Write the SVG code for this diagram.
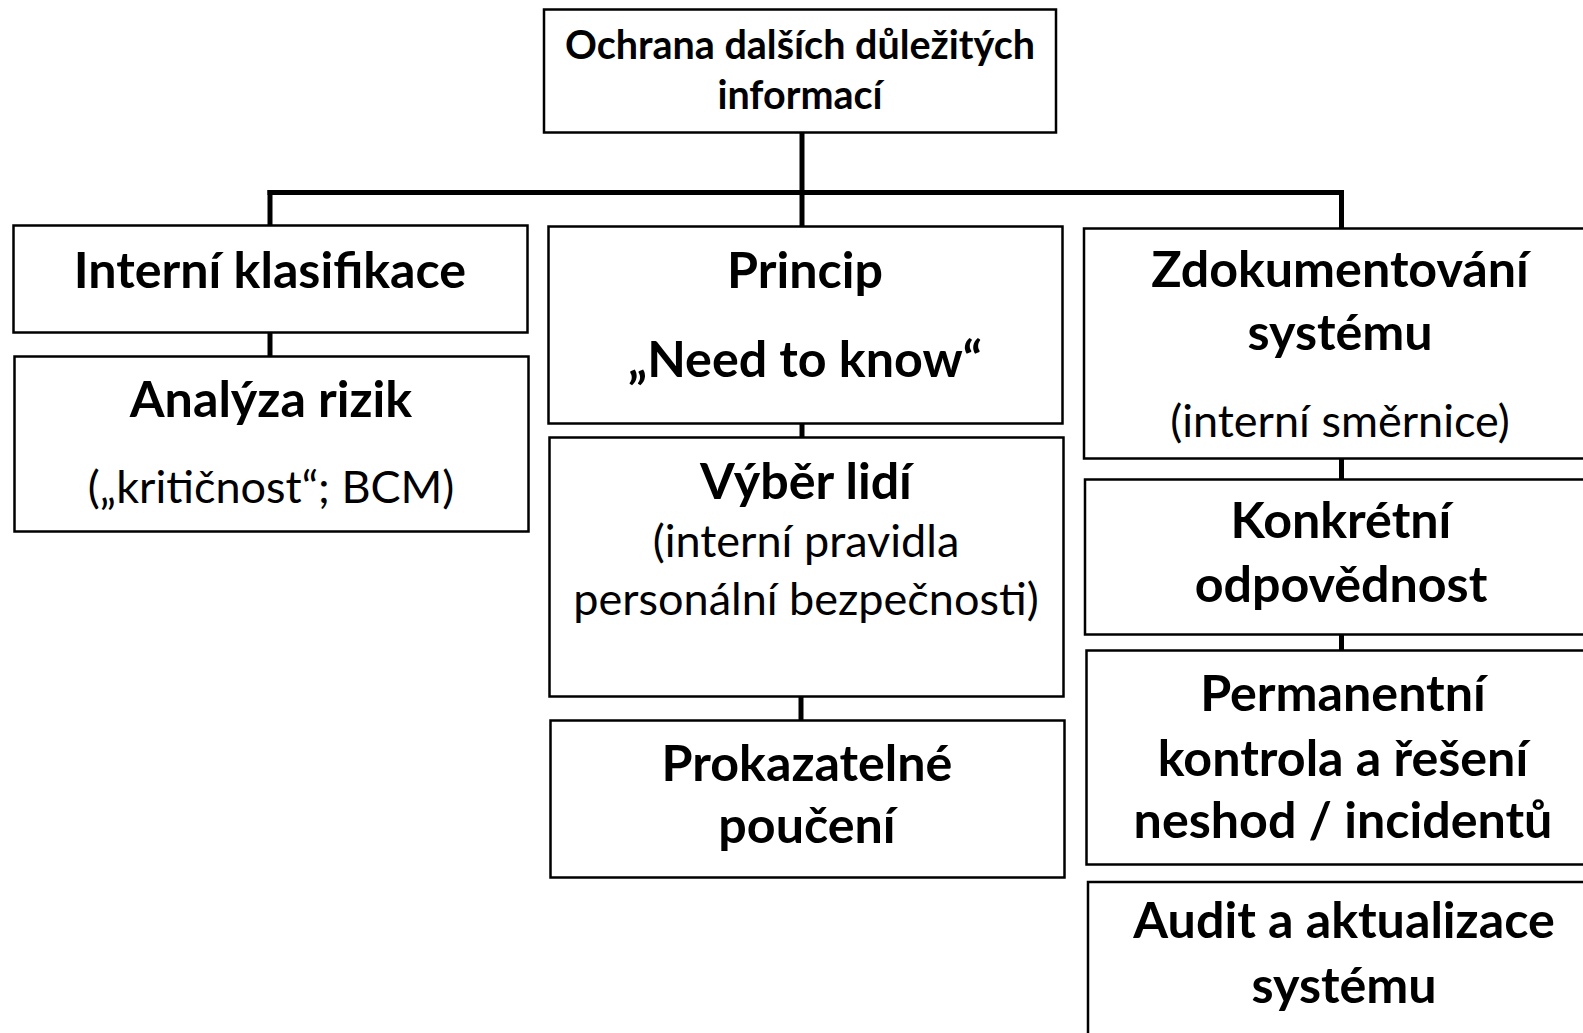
<svg xmlns="http://www.w3.org/2000/svg" width="1583" height="1033" viewBox="0 0 1583 1033">
  <style>
    .box { fill: #ffffff; stroke: #000000; stroke-width: 2.5; }
    .link { stroke: #000000; stroke-width: 5; fill: none; }
    text { font-family: Lato, "Open Sans", "Liberation Sans", sans-serif; fill: #000000; text-anchor: middle; }
    .h { font-weight: 700; font-size: 50.2px; }
    .r { font-weight: 400; font-size: 45px; }
    .top { font-weight: 700; font-size: 39.5px; }
  </style>
  <rect x="0" y="0" width="1583" height="1033" fill="#ffffff"/>

  <g id="connectors">
    <line class="link" x1="802" y1="132" x2="802" y2="227"/>
    <line class="link" x1="267.5" y1="192.5" x2="1344" y2="192.5"/>
    <line class="link" x1="270" y1="190" x2="270" y2="226"/>
    <line class="link" x1="1341.5" y1="190" x2="1341.5" y2="229"/>
    <line class="link" x1="270" y1="333" x2="270" y2="357"/>
    <line class="link" x1="802" y1="424" x2="802" y2="438"/>
    <line class="link" x1="801" y1="697" x2="801" y2="721"/>
    <line class="link" x1="1341.5" y1="459" x2="1341.5" y2="480"/>
    <line class="link" x1="1341.5" y1="634" x2="1341.5" y2="651"/>
  </g>

  <g id="root">
    <rect class="box" x="544" y="9.5" width="512" height="123"/>
    <text class="top" x="800" y="59">Ochrana dalších důležitých</text>
    <text class="top" x="800" y="109">informací</text>
  </g>

  <g id="interni-klasifikace">
    <rect class="box" x="13.5" y="225.5" width="514" height="107"/>
    <text class="h" x="270" y="288">Interní klasifikace</text>
  </g>

  <g id="analyza-rizik">
    <rect class="box" x="14.5" y="356.5" width="514" height="175"/>
    <text class="h" x="271" y="417">Analýza rizik</text>
    <text class="r" x="271" y="503">(„kritičnost“; BCM)</text>
  </g>

  <g id="princip">
    <rect class="box" x="548.5" y="226.5" width="514" height="197"/>
    <text class="h" x="805" y="288">Princip</text>
    <text class="h" x="805" y="377">„Need to know“</text>
  </g>

  <g id="vyber-lidi">
    <rect class="box" x="549.5" y="437.5" width="514" height="259"/>
    <text class="h" x="806" y="499">Výběr lidí</text>
    <text class="r" x="806" y="557">(interní pravidla</text>
    <text class="r" x="806" y="615">personální bezpečnosti)</text>
  </g>

  <g id="prokazatelne-pouceni">
    <rect class="box" x="550.5" y="720.5" width="514" height="157"/>
    <text class="h" x="807" y="781">Prokazatelné</text>
    <text class="h" x="807" y="843">poučení</text>
  </g>

  <g id="zdokumentovani">
    <rect class="box" x="1084" y="228.5" width="514" height="230"/>
    <text class="h" x="1340" y="287">Zdokumentování</text>
    <text class="h" x="1340" y="350">systému</text>
    <text class="r" x="1340" y="437">(interní směrnice)</text>
  </g>

  <g id="konkretni-odpovednost">
    <rect class="box" x="1085" y="479.5" width="514" height="155"/>
    <text class="h" x="1341" y="538">Konkrétní</text>
    <text class="h" x="1341" y="602">odpovědnost</text>
  </g>

  <g id="permanentni-kontrola">
    <rect class="box" x="1086.5" y="650.5" width="514" height="214"/>
    <text class="h" x="1343" y="711">Permanentní</text>
    <text class="h" x="1343" y="776">kontrola a řešení</text>
    <text class="h" x="1343" y="838">neshod / incidentů</text>
  </g>

  <g id="audit">
    <rect class="box" x="1088" y="882" width="514" height="180"/>
    <text class="h" x="1344" y="938">Audit a aktualizace</text>
    <text class="h" x="1344" y="1003">systému</text>
  </g>
</svg>
